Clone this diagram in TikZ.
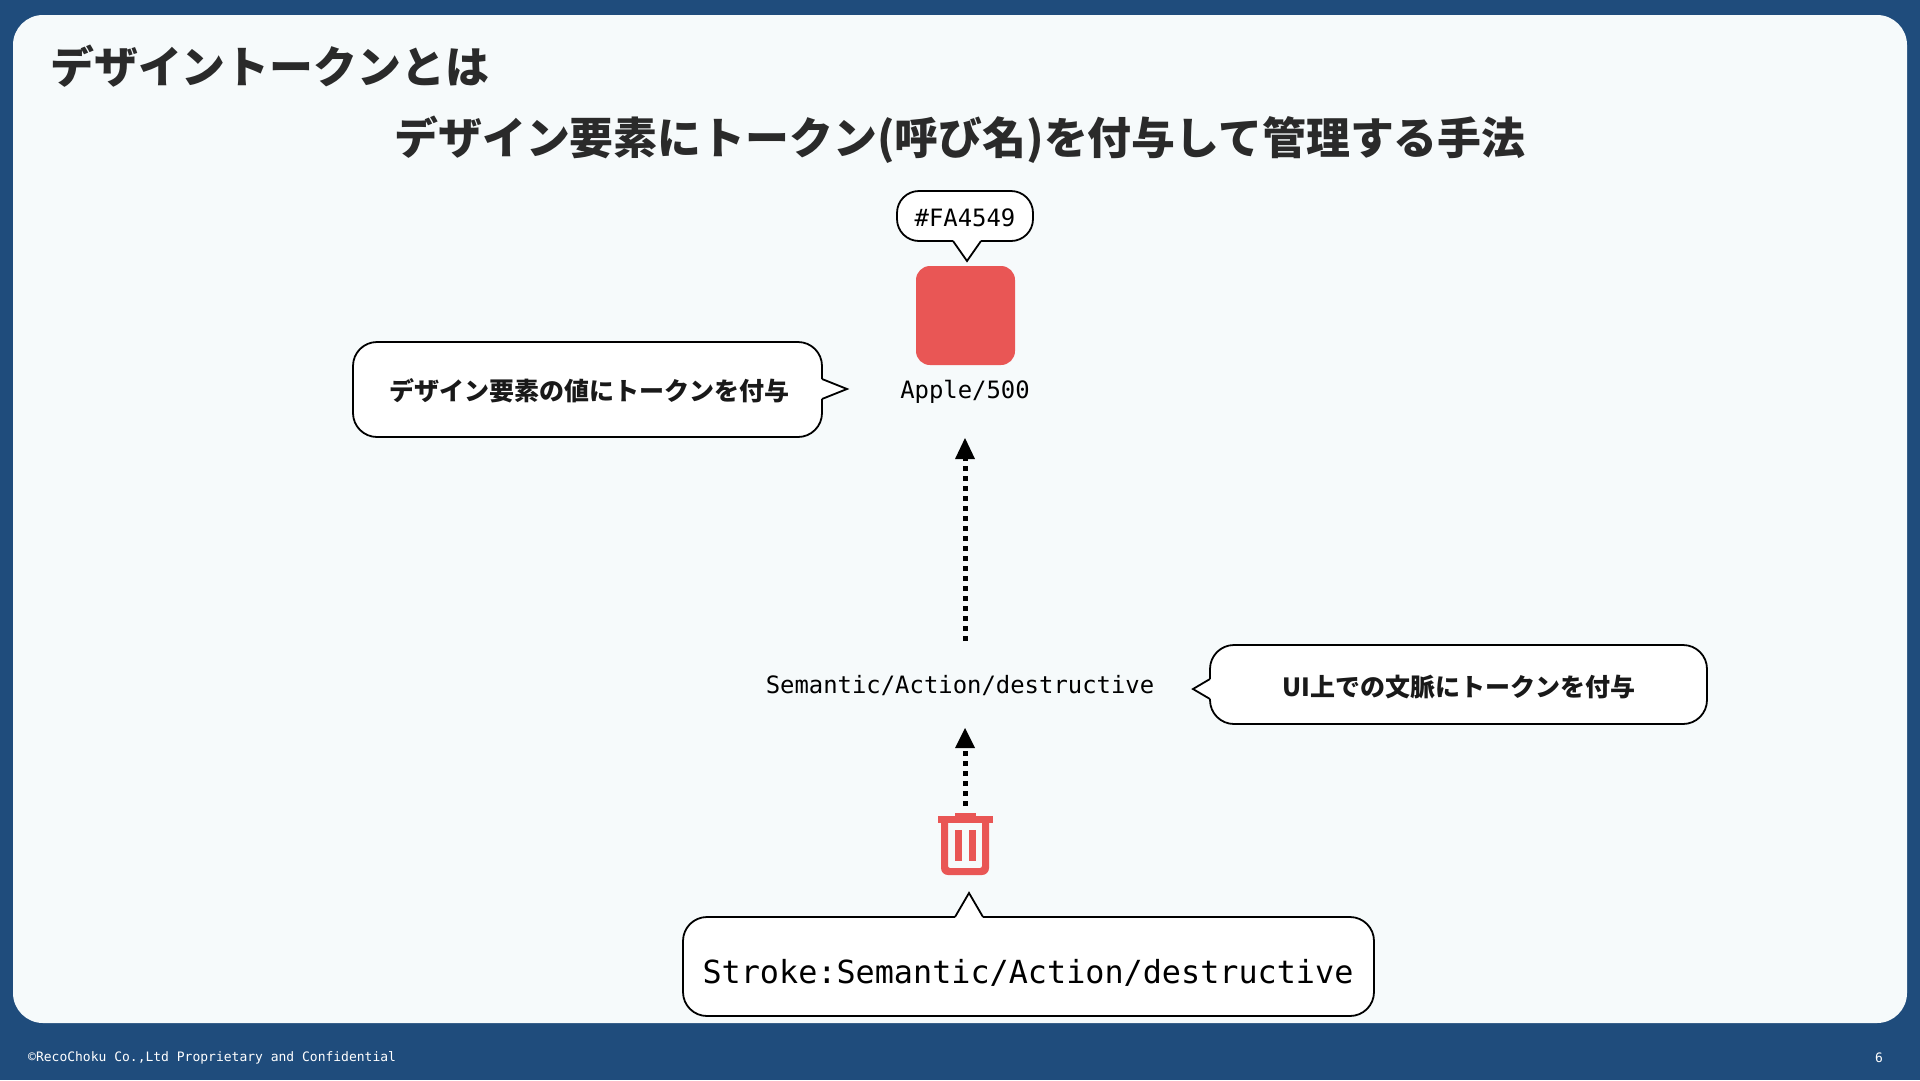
\documentclass[tikz,border=0pt]{standalone}
\usepackage{fontspec}
\newfontfamily\cjk{Noto Sans CJK JP}
\setmonofont{DejaVu Sans Mono}
\definecolor{frame}{HTML}{1F4C7C}
\definecolor{panel}{HTML}{F6FAFB}
\definecolor{apple}{HTML}{E95655}
\definecolor{ink}{HTML}{2A2A2A}
\newcommand{\fs}[1]{\fontsize{#1}{#1}\selectfont}
% speech bubble: rounded body, then a white tail that opens the outline
% #1 radius, #2 body corner, #3 opposite corner, #4 tail base, #5 tail tip, #6 tail base
\newcommand{\speech}[6]{%
  \draw[bubble, rounded corners=#1] #2 rectangle #3;
  \fill[white] #4 -- #5 -- #6 -- cycle;
  \draw[white, line width=2.4pt] #4 -- #6;
  \draw[bubble, fill=none, line join=miter] #4 -- #5 -- #6;
}
\tikzset{
  x=1pt, y=-1pt,
  bubble/.style={draw=black, fill=white, line width=1.8pt},
  heading/.style={inner sep=0pt, text=ink, font=\cjk\bfseries\fs{43.9}},
  note/.style={inner sep=0pt, text=black!90, font=\cjk\bfseries\fs{25}},
  code/.style={inner sep=0pt, text=black, font=\ttfamily\fs{23.9}},
  foot/.style={inner sep=0pt, text=white, font=\ttfamily\fs{13}},
  dotted link/.style={line width=5pt, dash pattern=on 5pt off 5pt, black},
  tip/.style={fill=black}
}
\begin{document}
\begin{tikzpicture}
\useasboundingbox (0,0) rectangle (1920,1080);
\fill[frame] (0,0) rectangle (1920,1080);
\fill[panel, rounded corners=30pt] (13,15) rectangle (1907,1023);

% headings
\node[heading, anchor=west] (title) at (50,66.5) {デザイントークンとは};
\node[heading] (subtitle) at (960,139.5) {デザイン要素にトークン(呼び名)を付与して管理する手法};

% colour swatch and its value
\fill[apple, rounded corners=14pt] (916,266) rectangle (1015,365);
\speech{22pt}{(897,191)}{(1033,241)}{(953,241)}{(967,261)}{(981,241)}
\node[code] (hex) at (965,218) {\#FA4549};
\node[code] (apple500) at (965,392) {Apple/500};

% note on the value token
\speech{24pt}{(353,342)}{(822,437)}{(822,379)}{(847,389)}{(822,399)}
\node[note] (valuenote) at (589,390.5) {デザイン要素の値にトークンを付与};

% semantic token
\node[code] (semantic) at (960,686) {Semantic/Action/destructive};
\speech{24pt}{(1210,645)}{(1707,724)}{(1210,679)}{(1193,689)}{(1210,699)}
\node[note] (contextnote) at (1459,687) {UI上での文脈にトークンを付与};

% links, dotted shaft plus solid head
\coordinate (linkAtop) at (965,459);
\coordinate (linkAbot) at (965,641);
\coordinate (linkBtop) at (965,751);
\coordinate (linkBbot) at (965,806);
\draw[dotted link] (linkAbot) -- (linkAtop);
\fill[tip] (965,438) -- (975,459) -- (955,459) -- cycle;
\draw[dotted link] (linkBbot) -- (linkBtop);
\fill[tip] (965,728) -- (975,748) -- (955,748) -- cycle;

% trash can icon
\fill[apple] (955,813) rectangle (976,817);
\fill[apple] (938,816) rectangle (993,823);
\fill[apple, even odd rule]
  (941,822) [rounded corners=7pt] -- (941,875) -- (989,875) [sharp corners] -- (989,822) -- cycle
  (948,822) [rounded corners=2pt] -- (948,868) -- (982,868) [sharp corners] -- (982,822) -- cycle;
\fill[apple] (955,830) rectangle (962,861);
\fill[apple] (969,830) rectangle (976,861);

% stroke usage note
\speech{24pt}{(683,917)}{(1374,1016)}{(955,917)}{(969,893)}{(983,917)}
\node[code, font=\ttfamily\fs{31.8}] (stroke) at (1028,972.5) {Stroke:Semantic/Action/destructive};

% footer
\node[foot, anchor=west] (copyright) at (28,1057.5) {©RecoChoku Co.,Ltd Proprietary and Confidential};
\node[foot] (pageno) at (1879,1057.5) {6};
\end{tikzpicture}
\end{document}
